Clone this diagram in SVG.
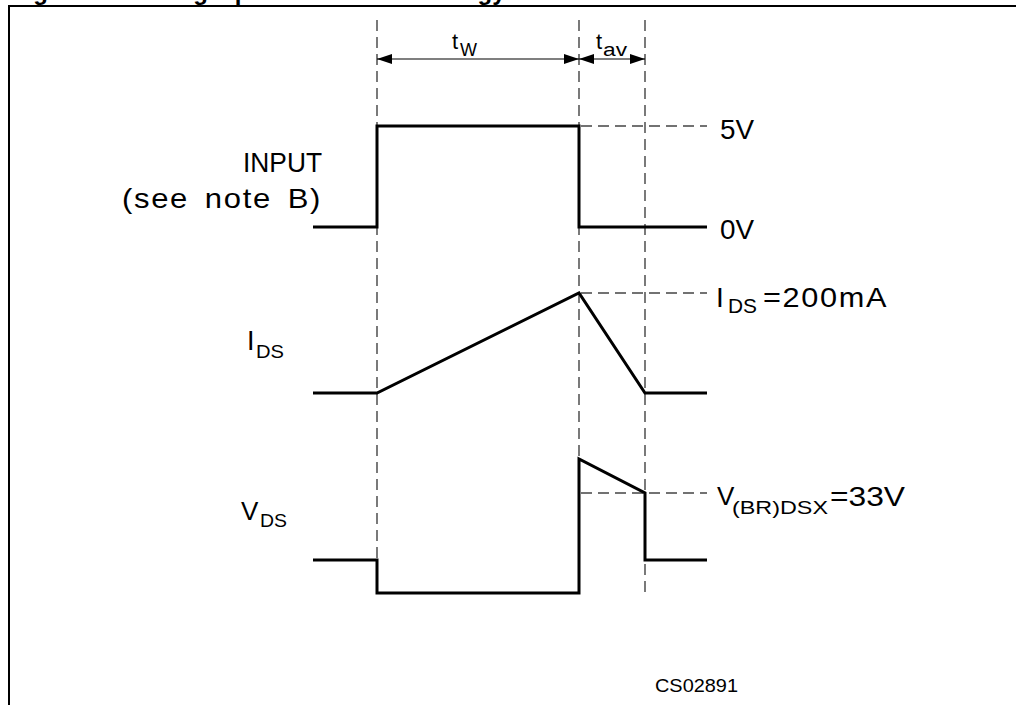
<svg xmlns="http://www.w3.org/2000/svg" width="1016" height="705" viewBox="0 0 1016 705">
<style>
.wave{fill:none;stroke:#000;stroke-width:3;stroke-linejoin:miter}
.vdash{fill:none;stroke:#333;stroke-width:1.3;stroke-dasharray:11 6}
.hdash{fill:none;stroke:#444;stroke-width:1.3;stroke-dasharray:11 6}
.dim{fill:none;stroke:#000;stroke-width:1.2}
.lbl{font-family:"Liberation Sans",Arial,sans-serif;fill:#000}
.title{font-family:"Liberation Sans",Arial,sans-serif;font-weight:bold;font-size:24px;fill:#000}
</style>
<defs>
<marker id="ah" viewBox="0 0 15 10" refX="15" refY="5" markerWidth="15" markerHeight="10" markerUnits="userSpaceOnUse" orient="auto-start-reverse">
<path d="M0,0 L15,5 L0,10 Z" fill="#000"/>
</marker>
</defs>
<rect width="1016" height="705" fill="#fff"/>
<g id="title">
<text class="title" x="12" y="0">Figure 19.</text>
<text class="title" x="156" y="0">Single pulse avalanche energy test waveforms</text>
</g>
<g id="frame">
<path d="M9,705 L9,6 L1016,6" fill="none" stroke="#000" stroke-width="2"/>
</g>
<g id="connectors">
<path class="vdash" d="M377,20 V592"/>
<path class="vdash" d="M579,20 V592"/>
<path class="vdash" d="M645,20 V592"/>
<path class="hdash" d="M581,126 H707"/>
<path class="hdash" d="M581,293 H707"/>
<path class="hdash" d="M581,493 H707"/>
<path class="dim" d="M377,59 H579" marker-start="url(#ah)" marker-end="url(#ah)"/>
<path class="dim" d="M579,59 H645" marker-start="url(#ah)" marker-end="url(#ah)"/>
</g>
<g id="input-wave">
<path class="wave" d="M313,227 H377 V126 H579 V227 H707"/>
</g>
<g id="ids-wave">
<path class="wave" d="M313,393 H377 L579,293 L645,393 H707"/>
</g>
<g id="vds-wave">
<path class="wave" d="M313,560 H377 V593 H579 V459 L645,493 V560 H707"/>
</g>
<g id="labels">
<text class="lbl" x="452" y="49" font-size="22">t</text>
<text class="lbl" x="460" y="56" font-size="18" textLength="17" lengthAdjust="spacingAndGlyphs">W</text>
<text class="lbl" x="596" y="49" font-size="22">t</text>
<text class="lbl" x="603" y="56" font-size="18" textLength="24" lengthAdjust="spacingAndGlyphs">av</text>
<text class="lbl" x="243" y="172" font-size="28" textLength="79" lengthAdjust="spacingAndGlyphs">INPUT</text>
<text class="lbl" x="122" y="208" font-size="28" letter-spacing="1.5" word-spacing="5" textLength="200" lengthAdjust="spacingAndGlyphs">(see note B)</text>
<text class="lbl" x="720" y="139" font-size="28" textLength="34" lengthAdjust="spacingAndGlyphs">5V</text>
<text class="lbl" x="720" y="239" font-size="28" textLength="34" lengthAdjust="spacingAndGlyphs">0V</text>
<text class="lbl" x="716" y="307" font-size="28">I</text>
<text class="lbl" x="728" y="313" font-size="20" textLength="29" lengthAdjust="spacingAndGlyphs">DS</text>
<text class="lbl" x="763" y="307" font-size="28" letter-spacing="1.5" textLength="125" lengthAdjust="spacingAndGlyphs">=200mA</text>
<text class="lbl" x="247" y="350" font-size="27">I</text>
<text class="lbl" x="256" y="358" font-size="19" textLength="28" lengthAdjust="spacingAndGlyphs">DS</text>
<text class="lbl" x="241" y="520" font-size="26">V</text>
<text class="lbl" x="260" y="527" font-size="19" textLength="27" lengthAdjust="spacingAndGlyphs">DS</text>
<text class="lbl" x="717" y="505" font-size="26">V</text>
<text class="lbl" x="732" y="514" font-size="18" textLength="96" lengthAdjust="spacingAndGlyphs">(BR)DSX</text>
<text class="lbl" x="830" y="506" font-size="27" textLength="75" lengthAdjust="spacingAndGlyphs">=33V</text>
<text class="lbl" x="655" y="692" font-size="19" textLength="83" lengthAdjust="spacingAndGlyphs">CS02891</text>
</g>
</svg>
